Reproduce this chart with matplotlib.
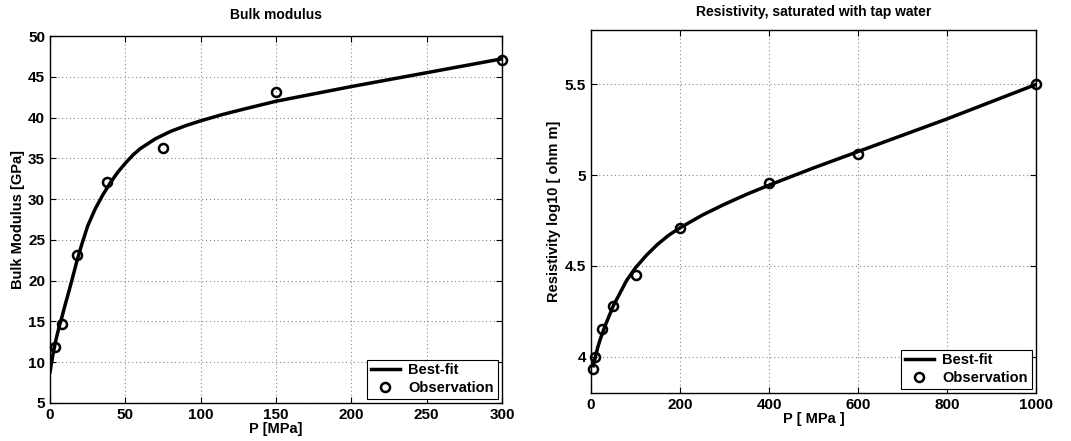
import matplotlib
matplotlib.use("Agg")
from matplotlib import pyplot as plt

plt.rcParams['font.family'] = ['Liberation Sans', 'DejaVu Sans']
plt.rcParams['font.weight'] = 'bold'

# bulk modulus panel
bulk_obs_p = [3, 8, 18, 38, 75, 150, 300]
bulk_obs_k = [11.9, 14.7, 23.1, 32.1, 36.3, 43.1, 47.0]
bulk_fit_p = [0, 2, 4, 6, 8, 10, 13, 16, 18, 21, 25, 30, 35, 40, 45, 50, 55, 60,
              70, 80, 90, 100, 115, 130, 150, 175, 200, 250, 300]
bulk_fit_k = [8.8, 11.0, 12.8, 14.3, 15.6, 17.0, 19.0, 21.1, 22.5, 24.4, 26.7, 28.8,
              30.5, 32.0, 33.3, 34.4, 35.4, 36.2, 37.4, 38.3, 39.0, 39.6, 40.4, 41.1,
              42.0, 42.9, 43.8, 45.5, 47.2]

# resistivity panel
res_obs_p = [5, 10, 25, 50, 100, 200, 400, 600, 1000]
res_obs_r = [3.93, 4.0, 4.15, 4.28, 4.45, 4.71, 4.955, 5.115, 5.505]
res_fit_p = [5, 10, 15, 20, 30, 40, 50, 65, 80, 100, 125, 150, 175, 200, 250, 300,
             350, 400, 500, 600, 700, 800, 900, 1000]
res_fit_r = [3.95, 4.0, 4.05, 4.09, 4.16, 4.22, 4.28, 4.35, 4.42, 4.49, 4.56, 4.62,
             4.67, 4.71, 4.78, 4.84, 4.895, 4.945, 5.04, 5.13, 5.22, 5.31, 5.405, 5.50]


def style(ax):
    ax.grid(True, linestyle=(0, (1, 2.5)), color='#888888', linewidth=0.8)
    ax.tick_params(direction='in', top=True, right=True, labelsize=11, length=4, width=0.8)
    for s in ax.spines.values():
        s.set_linewidth(1.0)
    for lab in ax.get_xticklabels() + ax.get_yticklabels():
        lab.set_fontweight('bold')
    leg = ax.legend(loc='lower right', fancybox=False, edgecolor='black', framealpha=1,
                    fontsize=10.5, borderaxespad=0.3, handlelength=2.0, borderpad=0.25,
                    labelspacing=0.25, handletextpad=0.6)
    leg.get_frame().set_linewidth(0.8)


fig = plt.figure(figsize=(10.71, 4.41), dpi=100)
ax1 = fig.add_axes([50 / 1071, 1 - 403 / 441, 452 / 1071, 367 / 441])
ax2 = fig.add_axes([591 / 1071, 1 - 393 / 441, 445 / 1071, 363 / 441])

ax1.plot(bulk_fit_p, bulk_fit_k, 'k-', lw=2.5, label='Best-fit')
ax1.plot(bulk_obs_p, bulk_obs_k, 'ko', mfc='none', mew=1.8, ms=6.5, label='Observation',
         clip_on=False, zorder=5)
ax1.set_xlim(0, 300)
ax1.set_ylim(5, 50)
ax1.set_xticks(range(0, 301, 50))
ax1.set_yticks(range(5, 51, 5))
ax1.set_title('Bulk modulus', fontsize=10, fontweight='bold', pad=12)
ax1.set_xlabel('P [MPa]', fontsize=10.5, fontweight='bold', labelpad=0)
ax1.set_ylabel('Bulk Modulus [GPa]', fontsize=10.5, fontweight='bold', labelpad=2)
style(ax1)

ax2.plot(res_fit_p, res_fit_r, 'k-', lw=2.5, label='Best-fit')
ax2.plot(res_obs_p, res_obs_r, 'ko', mfc='none', mew=1.8, ms=6.5, label='Observation',
         clip_on=False, zorder=5)
ax2.set_xlim(0, 1000)
ax2.set_ylim(3.8, 5.8)
ax2.set_xticks(range(0, 1001, 200))
ax2.set_yticks([4, 4.5, 5, 5.5])
ax2.set_yticklabels(['4', '4.5', '5', '5.5'])
ax2.set_title('Resistivity, saturated with tap water', fontsize=10, fontweight='bold', pad=10)
ax2.set_xlabel('P [ MPa ]', fontsize=10.5, fontweight='bold', labelpad=0)
ax2.set_ylabel('Resistivity log10 [ ohm m]', fontsize=10.5, fontweight='bold', labelpad=3)
style(ax2)

fig.savefig('out.png', dpi=100)
